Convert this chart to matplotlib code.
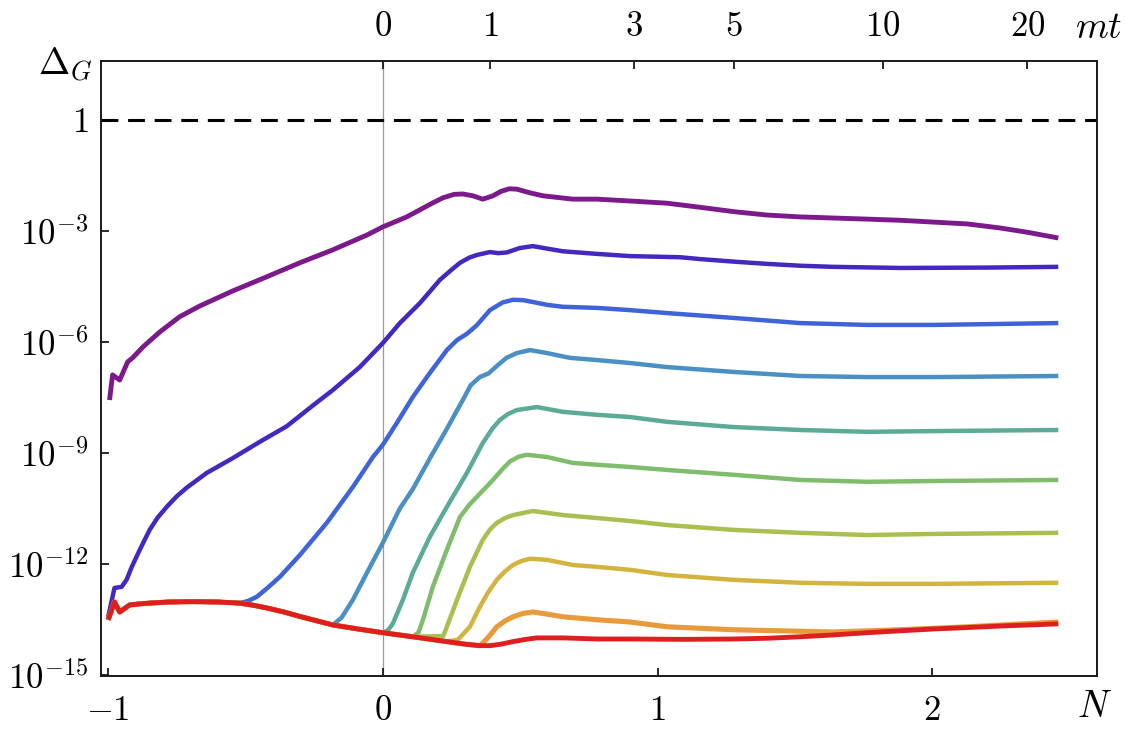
import numpy as np
import matplotlib
matplotlib.use("Agg")
import matplotlib.pyplot as plt
from matplotlib.ticker import FixedLocator, FixedFormatter, NullLocator

plt.rcParams['mathtext.fontset'] = 'cm'
plt.rcParams['font.family'] = 'serif'
plt.rcParams['font.serif'] = ['cmr10', 'DejaVu Serif']
plt.rcParams['axes.formatter.use_mathtext'] = True

# ---------------- data (N, log10 Delta_G) ----------------
base_N = [-1.00, -0.977, -0.958, -0.922, -0.885, -0.849, -0.78, -0.692, -0.60, -0.521, -0.47, -0.423,
          -0.36, -0.302, -0.24, -0.182, -0.09, 0.0,
          0.109, 0.233, 0.30, 0.353, 0.390, 0.43, 0.474, 0.52, 0.561, 0.656, 0.780, 0.900, 1.10, 1.275,
          1.40, 1.519, 1.64, 1.763, 1.88, 2.004, 2.13, 2.248, 2.459]
base_L = [-13.51, -13.03, -13.30, -13.11, -13.08, -13.06, -13.03, -13.02, -13.03, -13.06, -13.12, -13.19,
          -13.30, -13.42, -13.54, -13.65, -13.76, -13.86,
          -13.97, -14.10, -14.17, -14.21, -14.21, -14.17, -14.10, -14.04, -14.00, -14.00, -14.03, -14.03,
          -14.04, -14.03, -14.01, -13.97, -13.92, -13.86, -13.81, -13.76, -13.72, -13.68, -13.62]

purple_N = [-0.995, -0.984, -0.958, -0.929, -0.911, -0.874, -0.812, -0.740, -0.667, -0.546, -0.423,
            -0.302, -0.182, -0.058, 0.0, 0.087, 0.182, 0.22, 0.26, 0.291, 0.328, 0.364, 0.401, 0.43,
            0.46, 0.488, 0.536, 0.583, 0.692, 0.780, 0.900, 1.035, 1.155, 1.28, 1.399, 1.519, 1.64,
            1.763, 1.88, 2.004, 2.128, 2.248, 2.35, 2.459]
purple_L = [-7.57, -6.89, -7.03, -6.54, -6.43, -6.14, -5.73, -5.32, -5.03, -4.62, -4.24,
            -3.86, -3.51, -3.11, -2.89, -2.62, -2.24, -2.10, -2.01, -2.00, -2.05, -2.14, -2.05, -1.93,
            -1.86, -1.87, -1.97, -2.05, -2.14, -2.14, -2.19, -2.25, -2.36, -2.48, -2.57, -2.62, -2.65,
            -2.68, -2.71, -2.76, -2.81, -2.92, -3.04, -3.19]

indigo_N = [-1.00, -0.977, -0.951, -0.933, -0.914, -0.885, -0.849, -0.82, -0.787, -0.75, -0.714,
            -0.641, -0.546, -0.448, -0.350, -0.255, -0.182, -0.084, 0.0, 0.062, 0.135, 0.208, 0.25,
            0.281, 0.315, 0.342, 0.390, 0.42, 0.452, 0.499, 0.546, 0.60, 0.656, 0.780, 0.900, 1.082,
            1.155, 1.28, 1.399, 1.52, 1.639, 1.883, 2.2, 2.459]
indigo_L = [-13.43, -12.65, -12.62, -12.43, -12.08, -11.62, -11.08, -10.75, -10.46, -10.17, -9.94,
            -9.54, -9.14, -8.70, -8.28, -7.72, -7.30, -6.68, -6.03, -5.49, -4.95, -4.32, -4.05,
            -3.86, -3.72, -3.65, -3.57, -3.60, -3.58, -3.46, -3.41, -3.48, -3.55, -3.62, -3.68, -3.71,
            -3.76, -3.83, -3.89, -3.94, -3.97, -4.00, -3.99, -3.97]

blue_N = [-0.49, -0.459, -0.42, -0.375, -0.302, -0.204, -0.109, -0.036, 0.0, 0.051, 0.109, 0.171,
          0.233, 0.27, 0.306, 0.342, 0.390, 0.437, 0.474, 0.51, 0.546, 0.60, 0.656, 0.780, 0.900,
          1.035, 1.275, 1.519, 1.763, 2.004, 2.459]
blue_L = [-13.0, -12.89, -12.65, -12.35, -11.76, -10.89, -9.92, -9.11, -8.78, -8.19, -7.49, -6.84,
          -6.22, -5.95, -5.78, -5.55, -5.14, -4.93, -4.86, -4.87, -4.92, -5.00, -5.05, -5.08, -5.14,
          -5.22, -5.35, -5.49, -5.54, -5.54, -5.49]

steel_N = [-0.15, -0.109, -0.058, 0.0, 0.062, 0.109, 0.171, 0.233, 0.291, 0.32, 0.353, 0.385, 0.415,
           0.45, 0.488, 0.536, 0.597, 0.681, 0.780, 0.900, 1.035, 1.275, 1.519, 1.763, 2.004, 2.459]
steel_L = [-13.45, -12.97, -12.24, -11.43, -10.50, -9.98, -9.15, -8.35, -7.57, -7.17, -6.95, -6.85,
           -6.65, -6.43, -6.30, -6.22, -6.30, -6.43, -6.49, -6.57, -6.68, -6.81, -6.92, -6.95, -6.95, -6.92]

teal_N = [0.018, 0.036, 0.073, 0.109, 0.171, 0.233, 0.306, 0.364, 0.40, 0.426, 0.455, 0.488, 0.561,
          0.656, 0.780, 0.900, 1.035, 1.275, 1.519, 1.763, 2.004, 2.459]
teal_L = [-13.80, -13.62, -12.97, -12.24, -11.27, -10.46, -9.54, -8.73, -8.33, -8.11, -7.95, -7.84,
          -7.76, -7.89, -7.97, -8.03, -8.16, -8.30, -8.38, -8.43, -8.41, -8.38]

green_N = [0.13, 0.146, 0.182, 0.233, 0.281, 0.315, 0.342, 0.401, 0.44, 0.463, 0.495, 0.525, 0.597,
           0.692, 0.780, 0.900, 1.035, 1.275, 1.519, 1.763, 2.004, 2.459]
green_L = [-13.85, -13.51, -12.62, -11.62, -10.73, -10.40, -10.19, -9.73, -9.40, -9.23, -9.10, -9.05,
           -9.11, -9.27, -9.32, -9.38, -9.46, -9.59, -9.73, -9.78, -9.76, -9.73]

ygreen_N = [0.22, 0.233, 0.270, 0.317, 0.364, 0.39, 0.415, 0.445, 0.474, 0.546, 0.656, 0.780, 0.900,
            1.035, 1.275, 1.519, 1.763, 2.004, 2.459]
ygreen_L = [-13.95, -13.70, -12.97, -12.08, -11.35, -11.07, -10.89, -10.76, -10.68, -10.57, -10.68,
            -10.76, -10.84, -10.95, -11.08, -11.16, -11.22, -11.19, -11.16]

gold_N = [0.273, 0.317, 0.353, 0.385, 0.415, 0.445, 0.474, 0.505, 0.536, 0.597, 0.692, 0.780, 0.900,
          1.035, 1.275, 1.519, 1.763, 2.004, 2.459]
gold_L = [-14.05, -13.70, -13.16, -12.75, -12.43, -12.20, -12.03, -11.92, -11.86, -11.89, -12.03,
          -12.08, -12.16, -12.30, -12.43, -12.51, -12.54, -12.54, -12.51]

orange_N = [0.364, 0.39, 0.415, 0.445, 0.474, 0.51, 0.546, 0.60, 0.656, 0.780, 0.900, 1.035, 1.275,
            1.639, 1.883, 2.128, 2.459]
orange_L = [-14.14, -13.93, -13.70, -13.54, -13.43, -13.34, -13.30, -13.36, -13.43, -13.51, -13.57,
            -13.70, -13.78, -13.84, -13.78, -13.70, -13.57]

# branch-off point on the common baseline for each curve (N value)
departures = {'blue': -0.521, 'steel': -0.182, 'teal': 0.0, 'green': 0.109, 'ygreen': 0.2,
              'gold': 0.233, 'orange': 0.353}

mt_ticks_N = [0.0, 0.390, 0.914, 1.279, 1.821, 2.346]
mt_labels = ['0', '1', '3', '5', '10', '20']
N_ticks = [-1, 0, 1, 2]
y_ticks = [1e-15, 1e-12, 1e-9, 1e-6, 1e-3, 1]
y_labels = [r'$10^{-15}$', r'$10^{-12}$', r'$10^{-9}$', r'$10^{-6}$', r'$10^{-3}$', r'$1$']

colors = {
    'purple': '#7c1a8b', 'indigo': '#4428bf', 'blue': '#3f63d8', 'steel': '#4a90c4',
    'teal': '#5caa98', 'green': '#7fbd6d', 'ygreen': '#a9bf4f', 'gold': '#d3b43e',
    'orange': '#e89b3a', 'red': '#df1f1f'
}


def with_base(name, N, L):
    d = departures[name]
    bN = [n for n in base_N if n <= d]
    bL = [l for n, l in zip(base_N, base_L) if n <= d]
    return np.array(bN + list(N)), np.array(bL + list(L))


fig = plt.figure(figsize=(11.25, 7.4), dpi=100)
ax = fig.add_axes([0.0898, 0.0865, 0.8853, 0.8311])

xlo, xhi = -1.026, 2.60
ax.set_xlim(xlo, xhi)
ax.set_yscale('log')
ax.set_ylim(10 ** -15.03, 10 ** 1.595)

ax.axvline(0, color='#999999', lw=0.9, zorder=1)
ax.axhline(1, color='black', lw=2.2, dashes=(5.5, 3.2), zorder=2)

lw = 3.2
curves = [
    ('purple', np.array(purple_N), np.array(purple_L), 3.5),
    ('indigo', np.array(indigo_N), np.array(indigo_L), lw),
]
for name, N, L in [('blue', blue_N, blue_L), ('steel', steel_N, steel_L), ('teal', teal_N, teal_L),
                   ('green', green_N, green_L), ('ygreen', ygreen_N, ygreen_L), ('gold', gold_N, gold_L),
                   ('orange', orange_N, orange_L)]:
    n2, l2 = with_base(name, N, L)
    curves.append((name, n2, l2, lw + (0.5 if name == 'orange' else 0.0)))
curves.append(('red', np.array(base_N), np.array(base_L), 3.5))

for name, N, L, w in curves:
    ax.plot(N, 10.0 ** L, color=colors[name], lw=w, solid_joinstyle='round',
            solid_capstyle='butt', zorder=3)

# axes styling
for s in ax.spines.values():
    s.set_linewidth(1.4)
    s.set_color('#1a1a1a')

ax.yaxis.set_major_locator(FixedLocator(y_ticks))
ax.yaxis.set_major_formatter(FixedFormatter(y_labels))
ax.yaxis.set_minor_locator(NullLocator())
ax.set_xticks(N_ticks)
ax.set_xticklabels([r'$-1$', r'$0$', r'$1$', r'$2$'])
ax.tick_params(axis='both', direction='in', length=6, width=1.3, labelsize=25, color='#1a1a1a')
ax.tick_params(axis='x', pad=14)
ax.tick_params(axis='y', pad=9, right=False)

ax2 = ax.twiny()
ax2.set_xlim(xlo, xhi)
ax2.set_xticks(mt_ticks_N)
ax2.set_xticklabels([r'$%s$' % t for t in mt_labels])
ax2.tick_params(axis='x', direction='in', length=6, width=1.3, labelsize=25, pad=13, color='#1a1a1a')
for s in ax2.spines.values():
    s.set_visible(False)

fig.text(0.0338, 0.912, r'$\Delta_G$', fontsize=27, ha='left', va='center')
fig.text(0.9555, 0.962, r'$mt$', fontsize=27, ha='left', va='center')
fig.text(0.9725, 0.044, r'$N$', fontsize=27, ha='center', va='center')

fig.savefig('out.png', dpi=100, facecolor='white')
